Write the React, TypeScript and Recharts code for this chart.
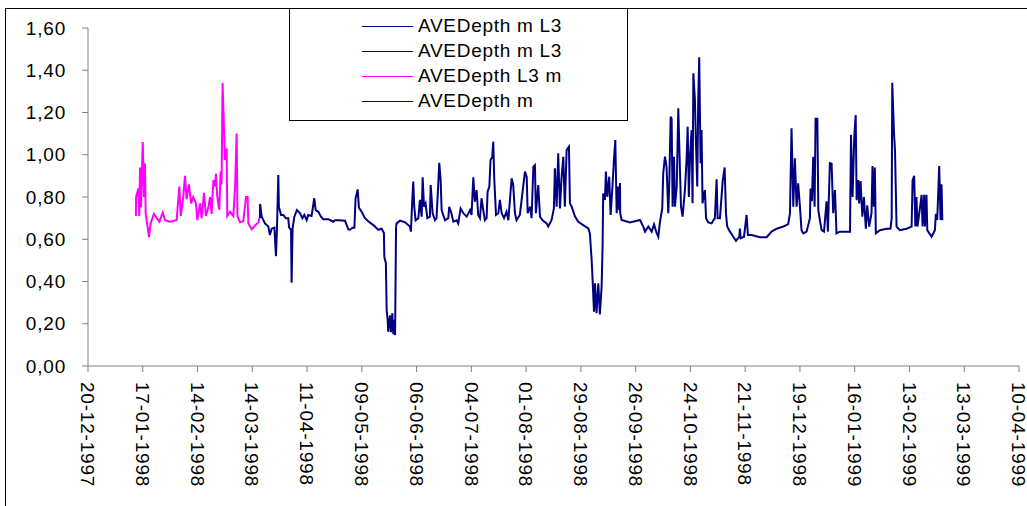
import React from 'react';
import { LineChart, Line, XAxis, YAxis, Legend } from 'recharts';

// Day offsets are counted from START_DATE (20-12-1997); values are depths in m.
const START_DATE = Date.UTC(1997, 11, 20);
const DAY_MS = 86400000;

const tickLabels = [
  '20-12-1997', '17-01-1998', '14-02-1998', '14-03-1998', '11-04-1998', '09-05-1998',
  '06-06-1998', '04-07-1998', '01-08-1998', '29-08-1998', '26-09-1998', '24-10-1998',
  '21-11-1998', '19-12-1998', '16-01-1999', '13-02-1999', '13-03-1999', '10-04-1999',
];
const yTicks = [0, 0.2, 0.4, 0.6, 0.8, 1.0, 1.2, 1.4, 1.6];

const seriesNames = ['AVEDepth m L3', 'AVEDepth m L3', 'AVEDepth L3 m', 'AVEDepth m'];
const seriesColors = ['#000080', '#000080', '#FF00FF', '#000080'];

// AVEDepth L3 m (magenta)
const depthL3m: [number, number][] = [
  [24.5, 0.71], [24.6, 0.8], [25.7, 0.84], [26.2, 0.71], [26.6, 0.94], [27.1, 0.75], [28.0, 1.06],
  [28.6, 0.8], [29.1, 0.96], [29.5, 0.72], [30.0, 0.69], [31.2, 0.61], [32.0, 0.675], [33.7, 0.72],
  [35.1, 0.7], [36.5, 0.683], [38.2, 0.726], [39.4, 0.69], [41.9, 0.683], [45.3, 0.69], [46.7, 0.85],
  [47.4, 0.71], [48.7, 0.8], [49.6, 0.9], [50.4, 0.79], [51.6, 0.86], [52.7, 0.77], [53.8, 0.8],
  [55.2, 0.77], [55.9, 0.69], [57.3, 0.77], [58.1, 0.7], [59.3, 0.82], [60.3, 0.71], [61.5, 0.75],
  [62.4, 0.8], [63.2, 0.72], [64.1, 0.88], [64.9, 0.85], [65.4, 0.91], [66.1, 0.8], [67.1, 0.74],
  [67.8, 0.92], [68.3, 0.86], [68.8, 1.34], [69.5, 1.13], [70.0, 0.975], [70.9, 1.03], [71.2, 0.71],
  [72.6, 0.73], [74.3, 0.71], [75.2, 0.85], [76.0, 1.1], [76.4, 0.71], [77.7, 0.68], [79.4, 0.685],
  [80.8, 0.8], [81.6, 0.8], [82.0, 0.675], [83.7, 0.647], [85.4, 0.665], [87.1, 0.68], [87.6, 0.7],
];

// AVEDepth m L3 (first)
const depthML3a: [number, number][] = [
  [87.9, 0.7], [88.0, 0.767], [88.8, 0.707], [90.5, 0.675], [92.2, 0.66], [93.0, 0.62], [93.9, 0.65],
  [95.3, 0.655], [96.1, 0.52], [96.6, 0.645], [97.3, 0.904], [97.6, 0.754], [98.7, 0.715], [99.9, 0.715],
  [101.1, 0.7], [102.4, 0.7], [102.8, 0.656], [103.8, 0.645], [104.1, 0.394], [104.6, 0.65], [105.5, 0.707],
  [106.8, 0.738], [108.4, 0.723], [109.6, 0.7], [110.6, 0.715], [111.8, 0.69], [112.6, 0.715], [114.3, 0.71],
  [115.7, 0.794], [116.4, 0.738], [117.8, 0.73], [119.1, 0.707], [120.3, 0.695], [122.9, 0.695],
  [125.4, 0.683], [126.3, 0.69], [128.0, 0.69], [131.4, 0.688], [133.1, 0.647], [134.0, 0.645],
  [135.3, 0.655], [136.2, 0.655], [136.8, 0.794], [137.9, 0.836], [138.5, 0.75], [139.9, 0.73],
  [141.6, 0.7], [143.6, 0.683], [145.9, 0.667], [148.4, 0.645], [150.1, 0.65], [151.3, 0.63],
  [151.5, 0.517], [152.3, 0.486], [152.7, 0.265], [153.2, 0.218], [153.5, 0.162], [154.4, 0.24],
  [154.9, 0.16], [155.6, 0.25], [156.1, 0.15], [156.6, 0.218], [157.0, 0.146], [157.5, 0.66],
];

// AVEDepth m L3 (second)
const depthML3b: [number, number][] = [
  [157.5, 0.66], [157.8, 0.675], [159.5, 0.688], [162.1, 0.68], [164.6, 0.66], [165.1, 0.636],
  [165.8, 0.786], [166.3, 0.873], [166.8, 0.754], [167.5, 0.69], [168.9, 0.7], [169.7, 0.786],
  [170.6, 0.707], [171.1, 0.893], [171.8, 0.754], [172.6, 0.77], [173.5, 0.7], [174.8, 0.707],
  [175.2, 0.857], [176.2, 0.723], [177.4, 0.69], [178.2, 0.7], [179.1, 0.865], [179.6, 0.962],
  [180.3, 0.88], [180.8, 0.738], [182.5, 0.69], [184.2, 0.7], [184.7, 0.754], [185.6, 0.73],
  [186.8, 0.683], [188.5, 0.69], [189.3, 0.675], [190.5, 0.746], [191.9, 0.723], [193.6, 0.707],
  [195.3, 0.738], [196.1, 0.715], [197.0, 0.893], [197.8, 0.778], [198.7, 0.833], [199.5, 0.715],
  [200.4, 0.7], [201.2, 0.794], [202.1, 0.738], [202.9, 0.69], [203.8, 0.7], [204.3, 0.825],
  [205.2, 0.849], [205.8, 0.975], [206.7, 0.99], [207.2, 1.062], [207.7, 0.888], [208.6, 0.715],
  [209.8, 0.723], [210.6, 0.786], [211.5, 0.723], [212.7, 0.7], [214.0, 0.73], [214.9, 0.69],
  [216.6, 0.888], [217.4, 0.857], [218.3, 0.723], [219.1, 0.69], [220.8, 0.715], [223.4, 0.92],
  [224.3, 0.896], [224.8, 0.723], [226.0, 0.754], [226.8, 0.7], [227.7, 0.944], [228.5, 0.951],
  [229.0, 0.723], [230.2, 0.857], [231.1, 0.707], [232.4, 0.69], [234.5, 0.675], [235.3, 0.66],
  [237.0, 0.69], [238.2, 0.746], [238.7, 0.936], [239.6, 0.754], [240.4, 1.007], [241.3, 0.746],
  [242.1, 0.888], [243.0, 0.99], [243.8, 0.754], [244.7, 1.022], [245.9, 1.038], [246.4, 0.77],
  [247.3, 0.754], [249.0, 0.707], [250.7, 0.683], [253.2, 0.667], [255.8, 0.651], [256.6, 0.628],
  [257.5, 0.502], [258.0, 0.407], [258.7, 0.257], [259.2, 0.391], [260.0, 0.25], [260.9, 0.391],
  [261.7, 0.244], [262.6, 0.375], [263.1, 0.565], [263.4, 0.817], [264.3, 0.786], [264.8, 0.92],
  [265.5, 0.801], [266.5, 0.896], [267.2, 0.715], [268.2, 0.857], [268.9, 0.975], [269.6, 1.07],
  [270.3, 0.723], [271.1, 0.849], [271.6, 0.738], [272.0, 0.866],
];

// AVEDepth m
const depthM: [number, number][] = [
  [272.0, 0.866], [272.1, 0.723], [272.8, 0.691], [277.1, 0.68], [282.2, 0.691], [283.9, 0.66],
  [284.8, 0.636], [286.5, 0.66], [288.2, 0.636], [289.4, 0.67], [290.7, 0.63], [291.6, 0.612],
  [292.4, 0.68], [293.6, 0.746], [294.1, 0.912], [295.0, 0.991], [295.8, 0.944], [296.7, 0.723],
  [297.2, 0.865], [297.9, 1.18], [298.4, 1.17], [298.9, 0.754], [299.6, 0.991], [300.1, 0.754],
  [301.0, 0.85], [301.8, 1.22], [302.7, 0.912], [303.2, 0.754], [304.0, 0.707], [305.2, 0.833],
  [306.1, 0.991], [306.6, 1.133], [307.2, 0.8], [307.8, 0.991], [308.6, 1.117], [309.1, 0.77],
  [309.5, 1.386], [310.3, 1.26], [310.8, 1.07], [311.5, 0.85], [312.0, 1.26], [312.5, 1.461],
  [313.2, 0.96], [313.7, 1.117], [314.2, 0.77], [315.4, 0.833], [316.0, 0.7], [317.1, 0.68],
  [318.8, 0.675], [320.5, 0.7], [321.4, 0.884], [321.9, 0.7], [323.1, 0.7], [324.5, 0.875],
  [325.5, 0.94], [326.2, 0.72], [326.8, 0.66], [328.2, 0.636], [329.9, 0.612], [331.3, 0.593],
  [333.0, 0.612], [333.3, 0.65], [333.7, 0.605], [335.4, 0.612], [336.7, 0.715], [337.4, 0.62],
  [339.3, 0.62], [343.5, 0.61], [347.0, 0.61], [349.5, 0.636], [352.1, 0.65], [355.5, 0.66],
  [358.0, 0.672], [358.9, 0.723], [359.7, 1.125], [360.6, 0.754], [361.4, 0.983], [362.3, 0.754],
  [363.1, 0.865], [364.0, 0.754], [364.8, 0.643], [365.7, 0.628], [367.4, 0.636], [369.1, 0.7],
  [369.4, 0.84], [370.1, 0.78], [370.8, 0.99], [371.5, 0.754], [372.0, 1.17], [372.9, 1.17],
  [373.4, 0.738], [374.2, 0.69], [375.1, 0.643], [376.3, 0.636], [377.6, 0.78], [378.3, 0.636],
  [379.3, 0.96], [380.2, 0.957], [381.0, 0.723], [381.9, 0.833], [382.7, 0.628], [384.4, 0.636],
  [387.9, 0.636], [389.6, 0.636], [390.1, 1.094], [390.9, 0.8], [391.8, 1.09], [392.5, 1.188],
  [393.0, 0.785], [393.8, 0.88], [394.3, 0.77], [395.0, 0.875], [395.9, 0.707], [396.7, 0.8],
  [397.7, 0.65], [398.4, 0.76], [399.4, 0.66], [400.6, 0.723], [401.1, 0.947], [401.8, 0.754],
  [402.3, 0.94], [402.8, 0.628], [404.9, 0.643], [408.3, 0.65], [410.3, 0.65], [410.9, 0.7],
  [411.2, 1.341], [412.1, 1.1], [412.6, 1.02], [413.4, 0.66], [415.1, 0.643], [418.5, 0.65],
  [421.1, 0.66], [421.6, 0.88], [422.4, 0.9], [423.0, 0.66], [423.6, 0.8], [424.1, 0.66],
  [425.0, 0.723], [426.2, 0.81], [426.7, 0.66], [427.5, 0.81], [427.9, 0.66], [428.7, 0.81],
  [429.1, 0.643], [431.3, 0.612], [433.0, 0.643], [433.5, 0.72], [434.2, 0.691], [435.2, 0.947],
  [435.9, 0.691], [436.4, 0.86], [436.8, 0.69],
];

const FONT = '"Liberation Sans", Arial, sans-serif';

const toRows = (arr: [number, number][]) => arr.map(([d, v]) => ({ d, v }));

const parseLabel = (s: string) => {
  const [dd, mm, yyyy] = s.split('-').map(Number);
  return Math.round((Date.UTC(yyyy, mm - 1, dd) - START_DATE) / DAY_MS);
};
const xTicks = tickLabels.map(parseLabel);

const fmtDay = (d: number) => {
  const dt = new Date(START_DATE + d * DAY_MS);
  const p = (n: number) => String(n).padStart(2, '0');
  return `${p(dt.getUTCDate())}-${p(dt.getUTCMonth() + 1)}-${dt.getUTCFullYear()}`;
};

const XTick = (props: any) => {
  const { x, y, payload } = props;
  return (
    <text
      x={x}
      y={y}
      dy="0.36em"
      transform={`rotate(90, ${x}, ${y})`}
      textAnchor="start"
      fontSize={19}
      fontFamily={FONT}
      fill="#000"
      style={{ letterSpacing: '0.8px' }}
    >
      {fmtDay(payload.value)}
    </text>
  );
};

const LegendBox = () => (
  <div
    style={{
      position: 'relative',
      width: 339,
      height: 113,
      boxSizing: 'border-box',
      border: '1px solid #000',
      background: '#fff',
      fontFamily: FONT,
      fontSize: 19,
      letterSpacing: '0.7px',
      color: '#000',
    }}
  >
    {seriesNames.map((name, i) => (
      <div key={i} style={{ position: 'absolute', left: 72, top: 17 + i * 25 - 12, height: 24, display: 'flex', alignItems: 'center' }}>
        <div style={{ width: 51, height: 0, borderTop: `1.5px solid ${seriesColors[i]}`, marginRight: 5 }} />
        <span style={{ whiteSpace: 'nowrap', lineHeight: '24px' }}>{name}</span>
      </div>
    ))}
  </div>
);

const seriesData = [depthML3a, depthML3b, depthL3m, depthM].map(toRows);

export default function App() {
  return (
    <div style={{ position: 'absolute', left: 0, top: 0, width: 1027, height: 506, overflow: 'hidden', background: '#fff' }}>
      <div
        style={{
          position: 'absolute',
          left: 5,
          top: 8,
          width: 1060,
          height: 560,
          border: '1px solid #000',
          boxSizing: 'border-box',
        }}
      />
      <LineChart width={1027} height={506} margin={{ top: 28, right: 8, bottom: 10, left: 0 }}>
        <XAxis
          dataKey="d"
          type="number"
          domain={[0, 476]}
          ticks={xTicks}
          interval={0}
          height={130}
          tickSize={6}
          tickMargin={10}
          tick={<XTick />}
          stroke="#808080"
          allowDataOverflow
        />
        <YAxis
          type="number"
          domain={[0, 1.6]}
          ticks={yTicks}
          interval={0}
          width={88}
          tickSize={6}
          tickMargin={16}
          stroke="#808080"
          tick={{ fill: '#000', fontSize: 19, fontFamily: FONT, style: { letterSpacing: '0.8px' } }}
          tickFormatter={(v: number) => v.toFixed(2).replace('.', ',')}
        />
        <Legend
          layout="horizontal"
          verticalAlign="middle"
          align="center"
          content={() => <LegendBox />}
          wrapperStyle={{ position: 'absolute', left: 289, top: 8, width: 339, height: 113 }}
        />
        {seriesData.map((rows, i) => (
          <Line
            key={i}
            data={rows}
            dataKey="v"
            name={seriesNames[i]}
            type="linear"
            stroke={seriesColors[i]}
            strokeWidth={2}
            dot={false}
            activeDot={false}
            isAnimationActive={false}
          />
        ))}
      </LineChart>
    </div>
  );
}
